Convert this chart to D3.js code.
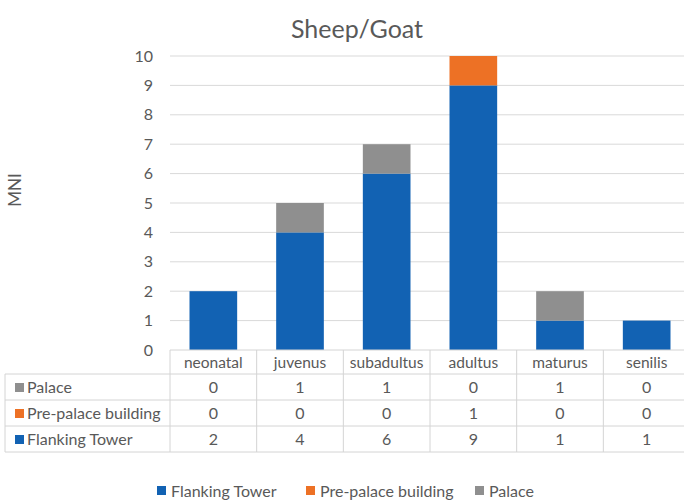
<!DOCTYPE html>
<html>
<head>
<meta charset="utf-8">
<script src="https://cdn.jsdelivr.net/npm/d3@7/dist/d3.min.js"></script>
<style>
  html, body { margin: 0; padding: 0; background: #fff; }
  svg text { font-family: Lato, "Open Sans", sans-serif; fill: #595959; }
</style>
</head>
<body>
<svg id="chart" width="684" height="500"></svg>
<script>
// Age classes and per-context MNI counts
const categories = ["neonatal", "juvenus", "subadultus", "adultus", "maturus", "senilis"];
const flankingTower = [2, 4, 6, 9, 1, 1];
const prePalace = [0, 0, 0, 1, 0, 0];
const palace = [0, 1, 1, 0, 1, 0];
const seriesNames = ["Flanking Tower", "Pre-palace building", "Palace"];
const seriesColors = ["#1262b3", "#ed7125", "#8f8f8f"];
const yTicks = [0, 1, 2, 3, 4, 5, 6, 7, 8, 9, 10];

const seriesValues = [flankingTower, prePalace, palace];
const svg = d3.select("#chart");

const plotLeft = 170, plotRight = 690, plotTop = 56, plotBottom = 350;
const fs = "16px";

const x = d3.scaleBand().domain(categories).range([plotLeft, plotRight])
  .paddingInner(0.45).paddingOuter(0.225);
const xCol = d3.scaleBand().domain(categories).range([plotLeft, plotRight]);
const y = d3.scaleLinear().domain([0, 10]).range([plotBottom, plotTop]);

// Title
svg.append("text").attr("x", 357).attr("y", 38).attr("text-anchor", "middle")
  .style("font-size", "25px").text("Sheep/Goat");

// Y axis title
svg.append("text").attr("transform", "translate(21,190) rotate(-90)")
  .attr("text-anchor", "middle").style("font-size", "17px").text("MNI");

// Gridlines and tick labels
const yAxis = d3.axisLeft(y).tickValues(yTicks).tickSize(0).tickPadding(17);
const gAxis = svg.append("g").attr("transform", `translate(${plotLeft},0)`).call(yAxis);
gAxis.select(".domain").remove();
gAxis.selectAll("text").style("font-size", "16px").attr("fill", "#595959");
svg.append("g").selectAll("line").data(yTicks.filter(t => t > 0)).join("line")
  .attr("x1", plotLeft).attr("x2", plotRight)
  .attr("y1", d => y(d)).attr("y2", d => y(d))
  .attr("stroke", "#d9d9d9").attr("stroke-width", 1);

// Stacked bars
const rows = categories.map((c, i) => {
  const o = { cat: c };
  seriesNames.forEach((s, k) => { o[s] = seriesValues[k][i]; });
  return o;
});
const stack = d3.stack().keys(seriesNames)(rows);
svg.append("g").selectAll("g").data(stack).join("g")
  .attr("fill", (d, i) => seriesColors[i])
  .selectAll("rect").data(d => d).join("rect")
  .attr("x", d => x(d.data.cat))
  .attr("width", x.bandwidth())
  .attr("y", d => y(d[1]))
  .attr("height", d => y(d[0]) - y(d[1]));

// Data table
const headerTop = 350, headerH = 24, rowH = 26;
const tableRows = [
  { name: "Palace", color: seriesColors[2], vals: palace },
  { name: "Pre-palace building", color: seriesColors[1], vals: prePalace },
  { name: "Flanking Tower", color: seriesColors[0], vals: flankingTower }
];
const tableBottom = headerTop + headerH + rowH * tableRows.length;
const gT = svg.append("g");
const lineColor = "#d4d4d4";

// horizontal lines
gT.append("line").attr("x1", plotLeft).attr("x2", plotRight)
  .attr("y1", headerTop).attr("y2", headerTop).attr("stroke", lineColor);
for (let r = 0; r <= tableRows.length; r++) {
  const yy = headerTop + headerH + r * rowH;
  gT.append("line").attr("x1", 5).attr("x2", plotRight)
    .attr("y1", yy).attr("y2", yy).attr("stroke", lineColor);
}
// vertical lines
gT.append("line").attr("x1", 5).attr("x2", 5)
  .attr("y1", headerTop + headerH).attr("y2", tableBottom).attr("stroke", lineColor);
categories.forEach(c => {
  gT.append("line").attr("x1", xCol(c)).attr("x2", xCol(c))
    .attr("y1", headerTop).attr("y2", tableBottom).attr("stroke", lineColor);
});

// header labels
gT.selectAll("text.hdr").data(categories).join("text").attr("class", "hdr")
  .attr("x", d => xCol(d) + xCol.bandwidth() / 2)
  .attr("y", headerTop + headerH / 2 + 6)
  .attr("text-anchor", "middle").style("font-size", "15.5px").text(d => d);

// rows
tableRows.forEach((row, r) => {
  const cy = headerTop + headerH + r * rowH + rowH / 2;
  gT.append("rect").attr("x", 15).attr("y", cy - 4).attr("width", 9).attr("height", 9)
    .attr("fill", row.color);
  gT.append("text").attr("x", 27).attr("y", cy + 6).style("font-size", fs).text(row.name);
  categories.forEach((c, i) => {
    gT.append("text").attr("x", xCol(c) + xCol.bandwidth() / 2).attr("y", cy + 6)
      .attr("text-anchor", "middle").style("font-size", fs).text(row.vals[i]);
  });
});

// Legend
const legendPos = [157, 306, 475];
const gL = svg.append("g");
seriesNames.forEach((s, i) => {
  gL.append("rect").attr("x", legendPos[i]).attr("y", 486).attr("width", 9).attr("height", 9)
    .attr("fill", seriesColors[i]);
  gL.append("text").attr("x", legendPos[i] + 14).attr("y", 497)
    .style("font-size", fs).text(s);
});
</script>
</body>
</html>
